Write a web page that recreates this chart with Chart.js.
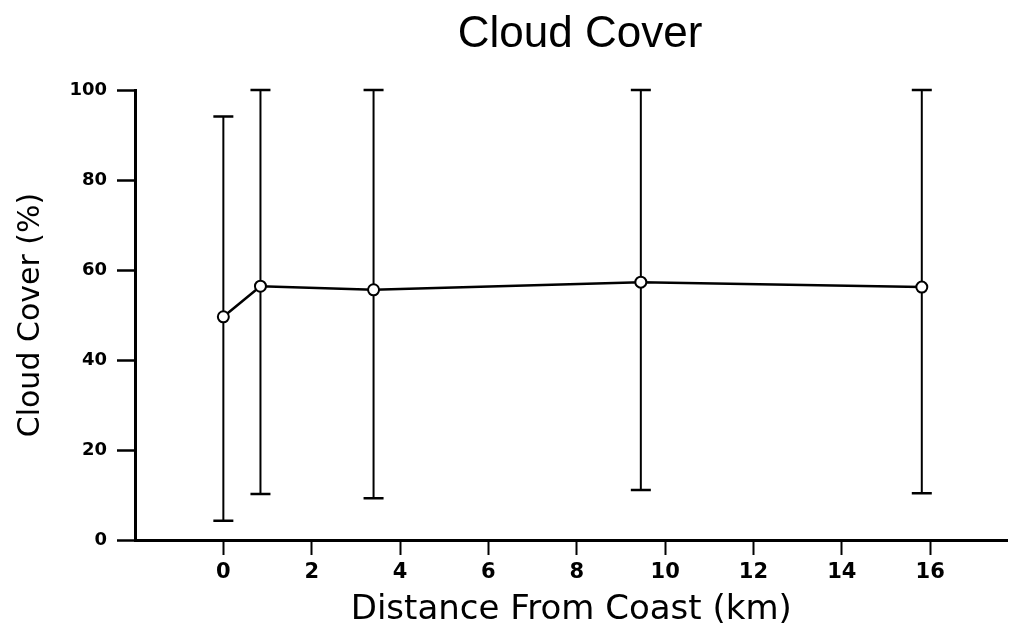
<!DOCTYPE html>
<html>
<head>
<meta charset="utf-8">
<script src="https://cdn.jsdelivr.net/npm/chart.js@4"></script>
<style>
  html, body { margin: 0; padding: 0; background: #fff; }
  canvas { display: block; }
</style>
</head>
<body>
<canvas id="chart" width="1015" height="638"></canvas>
<script>
// Distance from coast (km) and cloud cover statistics (%)
const distanceKm = [0, 0.84, 3.40, 9.45, 15.81];
const meanCover  = [49.6, 56.4, 55.6, 57.3, 56.2];
const lowCover   = [4.3, 10.2, 9.3, 11.1, 10.4];
const highCover  = [94.1, 100, 100, 100, 100];

const xTicks = [0, 2, 4, 6, 8, 10, 12, 14, 16];
const yTicks = [0, 20, 40, 60, 80, 100];

const chartTitle = 'Cloud Cover';

// Vertical range bars with flat caps, drawn under the line and markers
const errorBars = {
  id: 'errorBars',
  beforeDatasetsDraw(chart) {
    const { ctx, scales: { x, y } } = chart;
    ctx.save();
    ctx.strokeStyle = '#000';
    ctx.lineCap = 'butt';
    distanceKm.forEach((d, i) => {
      const px = x.getPixelForValue(d);
      const lo = y.getPixelForValue(lowCover[i]);
      const hi = y.getPixelForValue(highCover[i]);
      ctx.lineWidth = 2;
      ctx.beginPath();
      ctx.moveTo(px, lo);
      ctx.lineTo(px, hi);
      ctx.stroke();
      ctx.lineWidth = 2.5;
      ctx.beginPath();
      ctx.moveTo(px - 10, lo); ctx.lineTo(px + 10, lo);
      ctx.moveTo(px - 10, hi); ctx.lineTo(px + 10, hi);
      ctx.stroke();
    });
    ctx.restore();
  }
};

// Heading placed above the plot, slightly right of the canvas centre
const headline = {
  id: 'headline',
  afterDraw(chart) {
    const { ctx } = chart;
    ctx.save();
    ctx.fillStyle = '#000';
    ctx.font = 'normal 44px "Liberation Sans", Arial, sans-serif';
    ctx.textAlign = 'center';
    ctx.textBaseline = 'middle';
    ctx.fillText(chartTitle, 580, 35);
    ctx.restore();
  }
};

new Chart(document.getElementById('chart'), {
  type: 'scatter',
  data: {
    datasets: [{
      data: distanceKm.map((d, i) => ({ x: d, y: meanCover[i] })),
      showLine: true,
      borderColor: '#000',
      borderWidth: 2.5,
      pointRadius: 5.5,
      pointBackgroundColor: '#fff',
      pointBorderColor: '#000',
      pointBorderWidth: 2,
      clip: false
    }]
  },
  plugins: [errorBars, headline],
  options: {
    responsive: false,
    devicePixelRatio: 1,
    animation: false,
    layout: { padding: { left: 0, right: 2, top: 90, bottom: 0 } },
    plugins: {
      legend: { display: false },
      tooltip: { enabled: false },
      title: { display: false }
    },
    scales: {
      x: {
        type: 'linear',
        min: -2,
        max: 17.75,
        afterBuildTicks: s => { s.ticks = xTicks.map(v => ({ value: v })); },
        afterFit: s => { s.height = 98; },
        grid: { drawOnChartArea: false, drawTicks: true, tickLength: 15, tickWidth: 2, tickColor: '#000' },
        border: { display: true, color: '#000', width: 3 },
        ticks: {
          color: '#000',
          font: { family: 'DejaVu Sans', size: 21, weight: 'bold' },
          padding: 5, maxRotation: 0, autoSkip: false
        },
        title: {
          display: true,
          text: 'Distance From Coast (km)',
          color: '#000',
          font: { family: 'DejaVu Sans', size: 34, lineHeight: 1 },
          padding: { top: 0, bottom: 11 }
        }
      },
      y: {
        type: 'linear',
        min: 0,
        max: 100,
        afterBuildTicks: s => { s.ticks = yTicks.map(v => ({ value: v })); },
        afterFit: s => { s.width = 135; },
        grid: { drawOnChartArea: false, drawTicks: true, tickLength: 18, tickWidth: 2.5, tickColor: '#000' },
        border: { display: true, color: '#000', width: 3 },
        ticks: {
          color: '#000',
          font: { family: 'DejaVu Sans', size: 18, weight: 'bold' },
          padding: 10, autoSkip: false
        },
        title: {
          display: true,
          text: 'Cloud Cover (%)',
          color: '#000',
          font: { family: 'DejaVu Sans', size: 30, lineHeight: 1 },
          padding: { top: 16, bottom: 0 }
        }
      }
    }
  }
});
</script>
</body>
</html>
